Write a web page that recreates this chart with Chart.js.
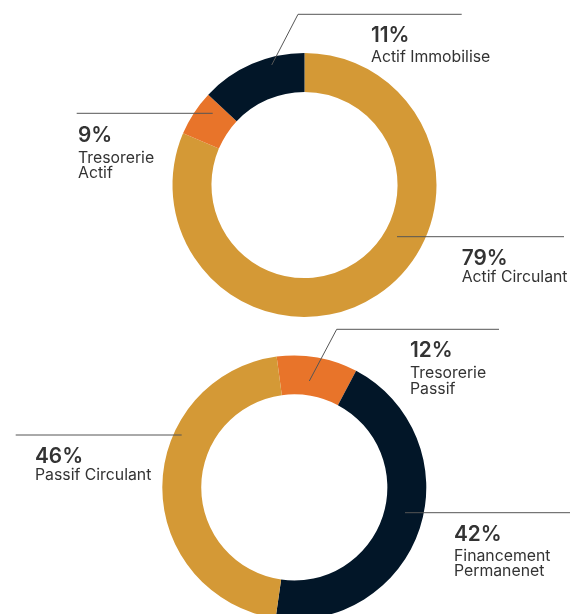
<!DOCTYPE html>
<html>
<head>
<meta charset="utf-8">
<script src="https://cdn.jsdelivr.net/npm/chart.js@4.4.1/dist/chart.umd.min.js"></script>
<style>
    html, body { margin: 0; padding: 0; background: #fff; overflow: hidden; }
    #wrap { position: relative; width: 570px; height: 614px; }
    canvas { position: absolute; left: 0; top: 0; }
</style>
</head>
<body>
<div id="wrap">
    <canvas id="actifChart" width="570" height="614"></canvas>
    <canvas id="passifChart" width="570" height="614"></canvas>
</div>
<script>
// data
const actifLabels = ['Actif Circulant', 'Tresorerie Actif', 'Actif Immobilise'];
const actifValues = [81.4, 5.6, 13];
const actifPercents = ['79%', '9%', '11%'];

const passifLabels = ['Tresorerie Passif', 'Financement Permanenet', 'Passif Circulant'];
const passifValues = [9.9, 44.5, 45.6];
const passifPercents = ['12%', '42%', '46%'];

const gold = '#d49936';
const orange = '#e8742a';
const navy = '#021628';

// callout layout, offsets relative to the doughnut centre
const actifCallouts = [
    { anchor: [92.5, 51.7], path: [[259.5, 51.7]], textX: 157.2, pctY: 80, lines: [['Actif Circulant', 96.7]] },
    { anchor: [-91.8, -71.7], path: [[-227.8, -71.7]], textX: -226.5, pctY: -43, lines: [['Tresorerie', -22.3], ['Actif', -7]] },
    { anchor: [-32.8, -120], path: [[-6.5, -170.7], [157.2, -170.7]], textX: 66.5, pctY: -143.5, lines: [['Actif Immobilise', -123]] },
];
const passifCallouts = [
    { anchor: [15, -106.4], path: [[42.4, -158.1], [204.7, -158.1]], textX: 115.7, pctY: -130.7, lines: [['Tresorerie', -109.4], ['Passif', -93.4]] },
    { anchor: [110.7, 25.3], path: [[275.7, 25.3]], textX: 159.7, pctY: 53.6, lines: [['Financement', 73.6], ['Permanenet', 88.6]] },
    { anchor: [-112.6, -52.4], path: [[-278.6, -52.4]], textX: -259.3, pctY: -24.4, lines: [['Passif Circulant', -7.4]] },
];

const calloutPlugin = {
    id: 'callouts',
    afterDraw(chart, args, opts) {
        const arc = chart.getDatasetMeta(0).data[0];
        if (!arc) return;
        const cx = arc.x, cy = arc.y;
        const ctx = chart.ctx;
        ctx.save();
        opts.items.forEach((c, i) => {
            ctx.strokeStyle = '#555';
            ctx.lineWidth = 1;
            ctx.beginPath();
            ctx.moveTo(cx + c.anchor[0], cy + c.anchor[1]);
            c.path.forEach(p => ctx.lineTo(cx + p[0], cy + p[1]));
            ctx.stroke();

            ctx.fillStyle = '#333';
            ctx.textAlign = 'left';
            ctx.textBaseline = 'alphabetic';
            ctx.font = '600 20.8px Inter';
            ctx.fillText(opts.percents[i], cx + c.textX, cy + c.pctY);
            ctx.font = '15.8px Inter';
            c.lines.forEach(l => ctx.fillText(l[0], cx + c.textX, cy + l[1]));
        });
        ctx.restore();
    }
};

const makeDoughnut = (id, labels, values, colors, rotation, padding, items, percents) => {
    const ctx = document.getElementById(id).getContext('2d');
    return new Chart(ctx, {
        type: 'doughnut',
        data: {
            labels: labels,
            datasets: [{
                data: values,
                backgroundColor: colors,
                borderWidth: 0,
            }]
        },
        options: {
            responsive: false,
            animation: false,
            radius: 132,
            cutout: '70.5%',
            rotation: rotation,
            layout: { padding: padding },
            plugins: {
                legend: false,
                tooltip: { enabled: false },
                callouts: { items: items, percents: percents }
            }
        },
        plugins: [calloutPlugin]
    });
};

// both canvases cover the page; padding places each ring's centre
makeDoughnut('actifChart', actifLabels, actifValues, [gold, orange, navy], 0,
    { left: 39, top: 0, right: 0, bottom: 244 }, actifCallouts, actifPercents);
makeDoughnut('passifChart', passifLabels, passifValues, [orange, navy, gold], -7.7,
    { left: 18.6, top: 360.8, right: 0, bottom: 0 }, passifCallouts, passifPercents);
</script>
</body>
</html>
